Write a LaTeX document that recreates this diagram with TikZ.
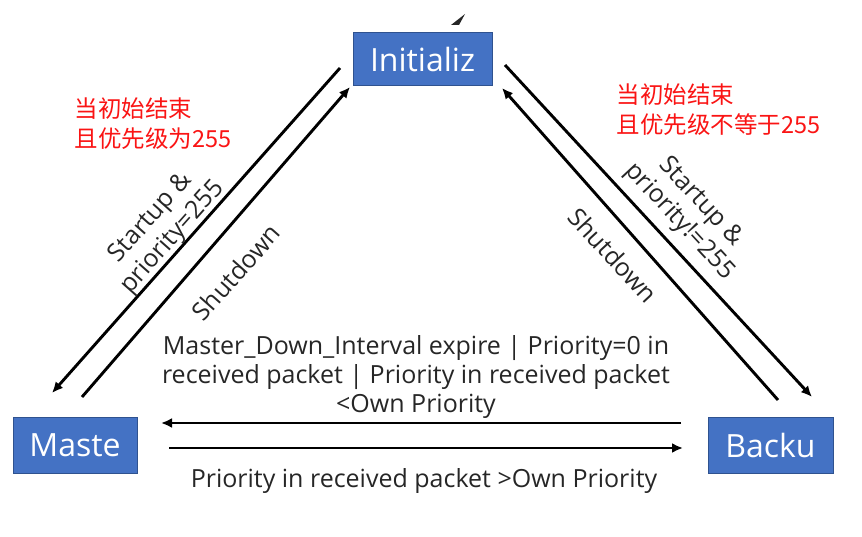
\documentclass[tikz,border=0pt]{standalone}
\usepackage{fontspec}
\setmainfont{Open Sans}
\newfontfamily\cjk{Noto Sans CJK SC}
\usetikzlibrary{arrows.meta,positioning,calc}
\definecolor{boxblue}{RGB}{68,114,196}
\definecolor{boxedge}{RGB}{47,82,143}
\definecolor{notered}{RGB}{250,20,20}

\begin{document}
\begin{tikzpicture}[x=1pt,y=-1pt,
  state/.style={draw=boxedge,fill=boxblue,line width=1pt,text=white,font=\fontsize{32}{36}\selectfont,inner sep=0pt},
  trans/.style={line width=2.9pt,-{Latex[length=11pt,width=10pt]}},
  cond/.style={font=\fontsize{25}{29}\selectfont,align=center,text=black!85},
  note/.style={font=\cjk\fontsize{23.5}{30}\selectfont,text=notered,align=left,anchor=north west}]
  \useasboundingbox (0,0) rectangle (862,537);
  \foreach \n/\t/\x/\y/\w/\h in {init/Initializ/422.5/59.5/139/53,mast/Maste/75/445/124/56,back/Backu/770.5/445/125/56}
    \node[state,minimum width=\w pt,minimum height=\h pt] (\n) at (\x,\y) {\t};

  \foreach \c/\x/\y in {im1/340/68,im2/52/393,mi1/82/397,mi2/350/87,ib1/505/65,ib2/812/397,bi1/778/400,bi2/502/88,bm1/681/423,bm2/161/423,mb1/169/448,mb2/683/448}
    \coordinate (\c) at (\x,\y);
  \draw[trans] (im1) -- (im2);
  \draw[trans] (mi1) -- (mi2);
  \draw[trans] (ib1) -- (ib2);
  \draw[trans] (bi1) -- (bi2);
  \draw[trans] (bm1) -- (bm2);
  \draw[trans] (mb1) -- (mb2);

  \node[cond,rotate=48.4] (upl) at (162,228) {Startup \&\\priority=255};
  \node[cond,rotate=48.4] (downl) at (236,272) {Shutdown};
  \node[cond,rotate=-47.2] (upr) at (690,212) {Startup \&\\priority!=255};
  \node[cond,rotate=-47.2] (downr) at (613,255) {Shutdown};
  \node[cond] (tomaster) at (416,377) {Master\_Down\_Interval expire | Priority=0 in\\received packet | Priority in received packet\\<Own Priority};
  \node[cond,anchor=base] (tobackup) at (424,487) {Priority in received packet >Own Priority};

  \node[note] (notel) at (71,94) {当初始结束\\且优先级为255};
  \node[note] (noter) at (613,80) {当初始结束\\且优先级不等于255};

  \fill[black!85] (451,25) -- (465,14) -- (459,25) -- cycle;
\end{tikzpicture}
\end{document}
